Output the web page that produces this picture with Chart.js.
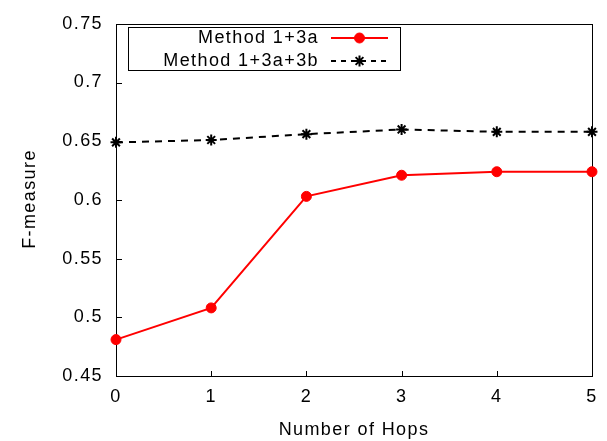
<!DOCTYPE html>
<html>
<head>
<meta charset="utf-8">
<script src="https://cdn.jsdelivr.net/npm/chart.js@4.4.1/dist/chart.umd.min.js"></script>
<style>
    html, body { margin: 0; padding: 0; background: #fff; }
    #wrap { width: 607px; height: 441px; }
</style>
</head>
<body>
<div id="wrap"><canvas id="chart" width="607" height="441"></canvas></div>
<script>
// Data
const hops = [0, 1, 2, 3, 4, 5];
const method13a = [0.481, 0.508, 0.603, 0.621, 0.624, 0.624];
const method13a3b = [0.649, 0.651, 0.656, 0.660, 0.658, 0.658];
const seriesLabels = ['Method 1+3a', 'Method 1+3a+3b'];
const xTitle = 'Number of Hops';
const yTitle = 'F-measure';
const yMin = 0.45, yMax = 0.75, yStep = 0.05;

const FONT = '"Liberation Sans", Arial, Helvetica, sans-serif';
const SPACING = '1.4px'; // the original text is wider than Arial
Chart.defaults.font.family = FONT;
Chart.defaults.font.size = 18;
Chart.defaults.color = '#000';

const spacingPlugin = {
    id: 'spacing',
    beforeDraw(chart) { chart.ctx.letterSpacing = SPACING; }
};

// gnuplot style frame + inward ticks + axis titles
const framePlugin = {
    id: 'frame',
    beforeDatasetsDraw(chart) {
        const { ctx, chartArea: a, scales } = chart;
        ctx.save();
        ctx.strokeStyle = '#000';
        ctx.lineWidth = 1;
        ctx.strokeRect(Math.round(a.left) + 0.5, Math.round(a.top) + 0.5,
            Math.round(a.right - a.left), Math.round(a.bottom - a.top));
        ctx.beginPath();
        scales.y.ticks.forEach(t => {
            const y = Math.round(scales.y.getPixelForValue(t.value)) + 0.5;
            ctx.moveTo(a.left, y);
            ctx.lineTo(a.left + 6, y);
        });
        scales.x.ticks.forEach(t => {
            const x = Math.round(scales.x.getPixelForValue(t.value)) + 0.5;
            ctx.moveTo(x, a.bottom);
            ctx.lineTo(x, a.bottom - 5);
        });
        ctx.stroke();

        ctx.fillStyle = '#000';
        ctx.font = '18px ' + FONT;
        ctx.textAlign = 'center';
        ctx.textBaseline = 'middle';
        ctx.fillText(xTitle, (a.left + a.right) / 2, 430);
        ctx.translate(30, 199);
        ctx.rotate(-Math.PI / 2);
        ctx.fillText(yTitle, 0, 0);
        ctx.restore();
    }
};

// gnuplot style key box
const keyPlugin = {
    id: 'key',
    afterDraw(chart) {
        const { ctx } = chart;
        ctx.save();
        ctx.strokeStyle = '#000';
        ctx.lineWidth = 1;
        ctx.strokeRect(128.5, 27.5, 272, 43);
        ctx.font = '18px ' + FONT;
        ctx.fillStyle = '#000';
        ctx.textAlign = 'right';
        ctx.textBaseline = 'middle';
        const rows = [38, 61];
        chart.data.datasets.forEach((ds, i) => {
            const y = rows[i];
            ctx.fillText(ds.label, 319, y);
            ctx.save();
            ctx.strokeStyle = ds.borderColor;
            ctx.lineWidth = ds.borderWidth;
            ctx.setLineDash(ds.borderDash ? [5, 5] : []);
            ctx.beginPath();
            ctx.moveTo(331, y);
            ctx.lineTo(388, y);
            ctx.stroke();
            ctx.restore();
            ctx.fillStyle = ds.pointBackgroundColor;
            ctx.strokeStyle = ds.pointBorderColor;
            ctx.lineWidth = ds.pointBorderWidth;
            Chart.helpers.drawPoint(ctx, {
                pointStyle: ds.pointStyle,
                radius: ds.pointRadius,
                borderWidth: ds.pointBorderWidth,
                rotation: 0
            }, 359.5, y);
            ctx.fillStyle = '#000';
        });
        ctx.restore();
    }
};

new Chart(document.getElementById('chart'), {
    type: 'line',
    data: {
        datasets: [{
            label: seriesLabels[0],
            data: hops.map((h, i) => ({ x: h, y: method13a[i] })),
            borderColor: '#ff0000',
            borderWidth: 2,
            pointStyle: 'circle',
            pointRadius: 5,
            pointBackgroundColor: '#ff0000',
            pointBorderColor: '#ff0000',
            pointBorderWidth: 1,
            tension: 0,
            clip: false
        }, {
            label: seriesLabels[1],
            data: hops.map((h, i) => ({ x: h, y: method13a3b[i] })),
            borderColor: '#000',
            borderWidth: 2,
            borderDash: [7, 6],
            pointStyle: 'star',
            pointRadius: 5.5,
            pointBackgroundColor: '#000',
            pointBorderColor: '#000',
            pointBorderWidth: 2,
            tension: 0,
            clip: false
        }]
    },
    options: {
        responsive: false,
        animation: false,
        devicePixelRatio: 1,
        layout: { padding: { left: 0, right: 12, top: 21, bottom: 0 } },
        plugins: { legend: { display: false }, tooltip: { enabled: false } },
        scales: {
            x: {
                type: 'linear',
                min: 0, max: 5,
                ticks: { stepSize: 1, padding: 10, maxRotation: 0 },
                grid: { display: false, drawTicks: false },
                border: { display: false },
                afterFit(s) { s.height = 65; }
            },
            y: {
                min: yMin, max: yMax,
                ticks: {
                    stepSize: yStep,
                    padding: 13,
                    callback: v => String(Number(v.toFixed(2)))
                },
                grid: { display: false, drawTicks: false },
                border: { display: false },
                afterFit(s) { s.width = 116; }
            }
        }
    },
    plugins: [spacingPlugin, framePlugin, keyPlugin]
});
</script>
</body>
</html>
